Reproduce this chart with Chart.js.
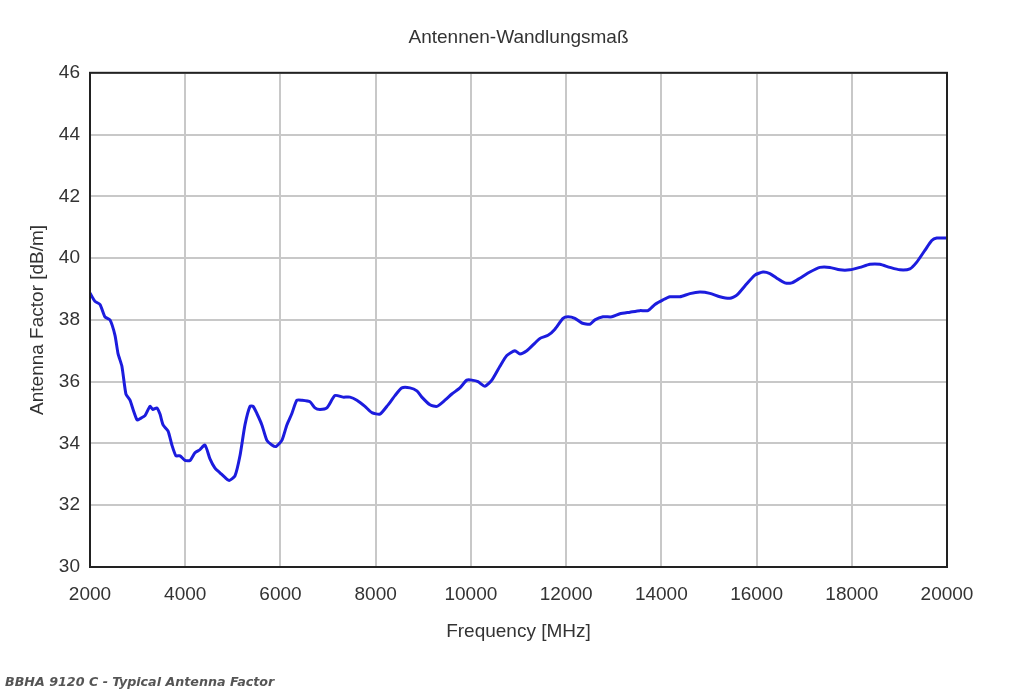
<!DOCTYPE html>
<html>
<head>
<meta charset="utf-8">
<script src="https://cdn.jsdelivr.net/npm/chart.js@4"></script>
<style>
  body { margin: 0; background: #fff; }
  #wrap { position: relative; width: 1016px; height: 691px; }
  #caption {
    position: absolute; left: 5px; top: 674px;
    font-family: "DejaVu Sans", Verdana, sans-serif;
    font-size: 12.7px; font-weight: bold; font-style: italic; color: #555;
  }
</style>
</head>
<body>
<div id="wrap">
  <canvas id="myChart" width="1016" height="691"></canvas>
  <div id="caption">BBHA 9120 C - Typical Antenna Factor</div>
</div>
<script>
//Frequency in MHz.
const freqs = [2000, 2105, 2210, 2315, 2420, 2525, 2590, 2670, 2755, 2840, 2905, 2990, 3050, 3155, 3260, 3320, 3405, 3470, 3535, 3640, 3720, 3805, 3890, 3995, 4100, 4205, 4310, 4415, 4520, 4625, 4730, 4835, 4920, 5045, 5150, 5255, 5360, 5425, 5505, 5610, 5715, 5820, 5905, 6030, 6135, 6240, 6345, 6450, 6620, 6725, 6830, 6975, 7145, 7315, 7460, 7605, 7775, 7920, 8090, 8260, 8405, 8550, 8720, 8865, 8970, 9140, 9285, 9455, 9600, 9770, 9915, 10020, 10150, 10295, 10440, 10610, 10755, 10925, 11030, 11175, 11345, 11450, 11620, 11765, 11935, 12040, 12185, 12330, 12500, 12605, 12775, 12960, 13130, 13340, 13550, 13720, 13865, 14035, 14180, 14390, 14600, 14810, 15020, 15230, 15440, 15585, 15755, 15965, 16135, 16280, 16425, 16595, 16740, 16910, 17120, 17330, 17540, 17750, 17960, 18170, 18380, 18590, 18800, 19010, 19220, 19365, 19535, 19680, 19785, 20000];

//Antenna factor in dB/m.
const factor = [38.87, 38.6, 38.5, 38.1, 38.0, 37.5, 36.9, 36.5, 35.6, 35.4, 35.1, 34.76, 34.8, 34.9, 35.2, 35.1, 35.15, 34.95, 34.6, 34.4, 33.95, 33.6, 33.6, 33.45, 33.45, 33.7, 33.8, 33.95, 33.5, 33.2, 33.05, 32.9, 32.8, 32.95, 33.6, 34.6, 35.2, 35.2, 34.97, 34.6, 34.1, 33.95, 33.9, 34.1, 34.6, 34.97, 35.4, 35.4, 35.35, 35.15, 35.1, 35.15, 35.55, 35.5, 35.5, 35.4, 35.2, 35.0, 34.95, 35.25, 35.55, 35.8, 35.8, 35.7, 35.5, 35.25, 35.2, 35.4, 35.6, 35.8, 36.05, 36.05, 36.0, 35.85, 36.05, 36.5, 36.85, 37.0, 36.9, 37.0, 37.25, 37.4, 37.5, 37.7, 38.05, 38.1, 38.05, 37.9, 37.86, 38.0, 38.1, 38.1, 38.2, 38.25, 38.3, 38.3, 38.5, 38.65, 38.75, 38.75, 38.85, 38.9, 38.86, 38.75, 38.7, 38.8, 39.1, 39.45, 39.55, 39.5, 39.35, 39.2, 39.2, 39.35, 39.55, 39.7, 39.7, 39.62, 39.62, 39.7, 39.8, 39.8, 39.7, 39.62, 39.65, 39.87, 40.25, 40.57, 40.65, 40.65];

const xMin = 2000, xMax = 20000, xStep = 2000;
const yMin = 30, yMax = 46, yStep = 2;

const textColor = '#333';
const fontName = '"Liberation Sans", Arial, sans-serif';

//Black frame round the plot area.
const framePlugin = {
    id: 'frame',
    afterDraw(chart) {
        const a = chart.chartArea;
        const c = chart.ctx;
        c.save();
        c.strokeStyle = '#222';
        c.lineWidth = 2;
        c.strokeRect(a.left, a.top, a.right - a.left, a.bottom - a.top);
        c.restore();
    }
};

const ctx = document.getElementById('myChart').getContext('2d');
const chart = new Chart(ctx, {
    type: 'line',
    data: {
        datasets: [{
            data: freqs.map((f, i) => ({ x: f, y: factor[i] })),
            borderColor: 'rgb(28, 28, 222)',
            borderWidth: 3,
            pointRadius: 0,
            tension: 0.2,
            fill: false
        }]
    },
    options: {
        responsive: false,
        animation: false,
        layout: { padding: { left: 0, right: 69, top: 0, bottom: 0 } },
        plugins: {
            legend: { display: false },
            tooltip: { enabled: false },
            title: {
                display: true,
                fullSize: false,
                text: 'Antennen-Wandlungsmaß',
                color: textColor,
                font: { family: fontName, size: 19, weight: 'normal' },
                padding: { top: 26, bottom: 24 }
            }
        },
        scales: {
            x: {
                type: 'linear',
                min: xMin,
                max: xMax,
                afterFit(scale) { scale.height = 124; },
                ticks: {
                    stepSize: xStep,
                    color: textColor,
                    padding: 16,
                    maxRotation: 0,
                    font: { family: fontName, size: 19 },
                    callback: v => String(v)
                },
                grid: { color: '#c8c8c8', lineWidth: 2, drawTicks: false },
                border: { color: '#222', width: 2 },
                title: {
                    display: true,
                    text: 'Frequency [MHz]',
                    color: textColor,
                    font: { family: fontName, size: 19 },
                    padding: { top: 0, bottom: 48 }
                }
            },
            y: {
                min: yMin,
                max: yMax,
                afterFit(scale) { scale.width = 90; },
                ticks: {
                    stepSize: yStep,
                    color: textColor,
                    padding: 10,
                    font: { family: fontName, size: 19 }
                },
                grid: { color: '#c8c8c8', lineWidth: 2, drawTicks: false },
                border: { color: '#222', width: 2 },
                title: {
                    display: true,
                    text: 'Antenna Factor [dB/m]',
                    color: textColor,
                    font: { family: fontName, size: 19 },
                    padding: { top: 26, bottom: 0 }
                }
            }
        }
    },
    plugins: [framePlugin]
});
</script>
</body>
</html>
